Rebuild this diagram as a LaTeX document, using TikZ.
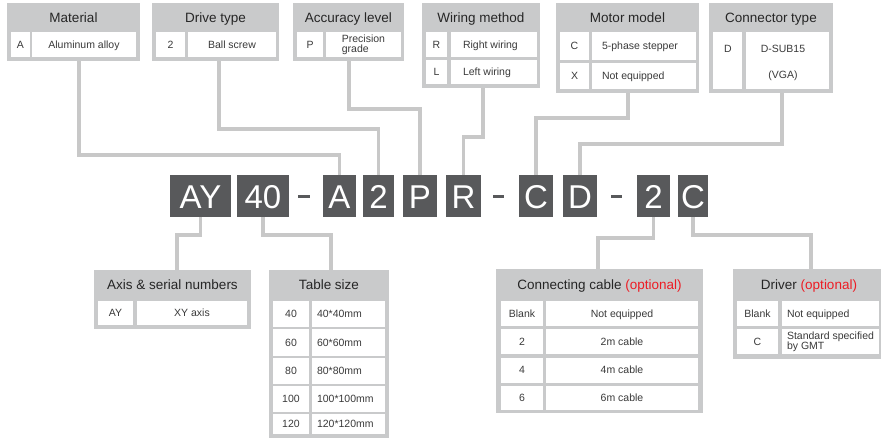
\documentclass[tikz,border=0pt]{standalone}
\usepackage{fontspec}
\setmainfont{Liberation Sans}
\definecolor{hdr}{HTML}{C9CACB}
\definecolor{connc}{HTML}{C8C8C8}
\definecolor{codebg}{HTML}{58595B}
\definecolor{txt}{HTML}{3A3A3A}
\definecolor{hdtxt}{HTML}{262626}
\definecolor{opt}{HTML}{ED1C24}
\tikzset{
 frame/.style={fill=hdr, inner sep=0pt, outer sep=0pt, anchor=north west},
 hd/.style={inner sep=0pt, outer sep=0pt, anchor=north west, text=hdtxt, font=\fontsize{13.5}{16}\selectfont, text height=9.8pt, text depth=0pt},
 cell/.style={fill=white, inner sep=0pt, outer sep=0pt, anchor=north west, text=txt, font=\fontsize{10.5}{10}\selectfont},
 sl/.style={text height=7.6pt, text depth=0pt},
 ctxt/.style={inner sep=0pt, outer sep=0pt, text=txt, font=\fontsize{10.5}{10}\selectfont, align=left},
 code/.style={fill=codebg, text=white, inner sep=0pt, outer sep=0pt, minimum height=42pt, text height=24pt, text depth=0pt, font=\fontsize{33}{33}\selectfont},
 dashbar/.style={fill=codebg, inner sep=0pt, outer sep=0pt, minimum width=11.5pt, minimum height=3pt},
 cn/.style={draw=connc, line width=3.2pt},
}
% table frame with header: [header height]{name}{x1}{y1}{x2}{y2}{title}
\newcommand\TBox[7][29]{\node[frame,minimum width={#5-#3},minimum height={#6-#4}] (#2) at (#3,#4) {};
 \node[hd,minimum width={#5-#3},minimum height=#1] (#2h) at (#3,#4) {#7};}
% centred single-line cell
\newcommand\TCell[6]{\node[cell,sl,minimum width={#4-#2},minimum height={#5-#3}] (#1) at (#2,#3) {#6};}
% centred multi-line cell
\newcommand\TMulti[6]{\node[cell,align=left,minimum width={#4-#2},minimum height={#5-#3}] (#1) at (#2,#3) {#6};}
% left aligned single-line cell: [pad]
\newcommand\TLeft[7][5]{\node[cell,minimum width={#5-#3},minimum height={#6-#4}] (#2) at (#3,#4) {};
 \node[ctxt,sl,anchor=west] (#2t) at ([xshift=#1pt]#2.west) {#7};}
% code box
\newcommand\CodeBox[4]{\node[code,minimum width={#3-#2}] (#1) at ({(#2+#3)/2},196) {#4};}
\begin{document}
\begin{tikzpicture}[x=1pt,y=-1pt]
\useasboundingbox (0,0) rectangle (881,437);
% ---- top tables
\TBox{mat}{7}{3}{140}{61}{Material}
\TCell{matA}{11}{32}{30}{57}{A}
\TCell{matV}{32}{32}{136}{57}{Aluminum alloy}
\TBox{drv}{152}{3}{279}{61}{Drive type}
\TCell{drvA}{156}{32}{185}{57}{2}
\TCell{drvV}{188}{32}{276}{57}{Ball screw}
\TBox{acc}{293}{3}{404}{61}{Accuracy level}
\TCell{accA}{297}{32}{323}{57}{P}
\TMulti{accV}{326}{32}{401}{57}{Precision\\grade}
\TBox{wir}{422}{3}{540}{88}{Wiring method}
\TCell{wirR}{426}{32}{447}{57}{R}
\TLeft[12]{wirRv}{451}{32}{537}{57}{Right wiring}
\TCell{wirL}{426}{60}{447}{84}{L}
\TLeft[12]{wirLv}{451}{60}{537}{84}{Left wiring}
\TBox{mot}{556}{3}{699}{93}{Motor model}
\TCell{motC}{560}{32}{589}{60}{C}
\TLeft[10]{motCv}{592}{32}{696}{60}{5-phase stepper}
\TCell{motX}{560}{63}{589}{89}{X}
\TLeft[10]{motXv}{592}{63}{696}{89}{Not equipped}
\TBox{con}{709}{3}{833}{93}{Connector type}
\TCell{conD}{713}{32}{742}{89}{}
\TCell{conV}{746}{32}{829}{89}{}
\node[ctxt,sl] (conDt) at (728,48.5) {D};
\node[ctxt,sl] (conVa) at (783,48.5) {D-SUB15};
\node[ctxt,sl] (conVb) at (783,74.5) {(VGA)};
% ---- bottom tables
\TBox[30]{axs}{94}{270}{251}{329}{Axis \& serial numbers}
\TCell{axsA}{98}{301}{133}{325}{AY}
\TCell{axsV}{137}{301}{247}{325}{XY axis}
\TBox[30]{tbl}{269}{270}{389}{440}{Table size}
\TCell{tbl1}{273}{301}{309}{327}{40}
\TLeft{tbl1v}{312}{301}{385}{327}{40*40mm}
\TCell{tbl2}{273}{329.3}{309}{355.5}{60}
\TLeft{tbl2v}{312}{329.3}{385}{355.5}{60*60mm}
\TCell{tbl3}{273}{357.6}{309}{383.8}{80}
\TLeft{tbl3v}{312}{357.6}{385}{383.8}{80*80mm}
\TCell{tbl4}{273}{385.9}{309}{411.8}{100}
\TLeft{tbl4v}{312}{385.9}{385}{411.8}{100*100mm}
\TCell{tbl5}{273}{414.2}{309}{434}{120}
\TLeft{tbl5v}{312}{414.2}{385}{434}{120*120mm}
\TBox[31]{cab}{496}{269}{703}{413}{Connecting cable \textcolor{opt}{(optional)}}
\TCell{cab1}{501}{301}{543}{326}{Blank}
\TCell{cab1v}{546}{301}{698}{326}{Not equipped}
\TCell{cab2}{501}{329.3}{543}{354.3}{2}
\TCell{cab2v}{546}{329.3}{698}{354.3}{2m cable}
\TCell{cab3}{501}{357.6}{543}{382.6}{4}
\TCell{cab3v}{546}{357.6}{698}{382.6}{4m cable}
\TCell{cab4}{501}{385.9}{543}{409.8}{6}
\TCell{cab4v}{546}{385.9}{698}{409.8}{6m cable}
\TBox[31]{dri}{733}{269}{885}{359}{Driver \textcolor{opt}{(optional)}}
\TCell{dri1}{737}{301}{778}{326}{Blank}
\TLeft{dri1v}{782}{301}{879}{326}{Not equipped}
\TCell{dri2}{737}{329.3}{778}{354.3}{C}
\node[cell,minimum width=97pt,minimum height=25pt] (dri2v) at (782,329.3) {};
\node[ctxt,anchor=west] (dri2vt) at ([xshift=5pt]dri2v.west) {Standard specified\\by GMT};
% ---- code
\CodeBox{kAY}{170}{231}{AY}
\CodeBox{kF}{237}{289}{40}
\node[dashbar] (dA) at (304,196) {};
\CodeBox{kA}{323}{356}{A}
\CodeBox{kT}{363}{394}{2}
\CodeBox{kP}{403}{437}{P}
\CodeBox{kR}{446}{481}{R}
\node[dashbar] (dB) at (498.5,196) {};
\CodeBox{kC}{519}{553}{C}
\CodeBox{kD}{563}{597}{D}
\node[dashbar] (dC) at (616.5,196) {};
\CodeBox{kTb}{637}{670}{2}
\CodeBox{kCb}{678}{708}{C}
% ---- connectors
\draw[cn] ([xshift=5.5pt]mat.south) |- ([yshift=20pt]kA.north) -- (kA.north);
\draw[cn] ([xshift=3.5pt]drv.south) |- ([yshift=46pt]kT.north) -- (kT.north);
\draw[cn] ([xshift=0.5pt]acc.south) |- ([yshift=66pt]kP.north) -- (kP.north);
\draw[cn] ([xshift=2pt]wir.south) |- ([yshift=38pt]kR.north) -- (kR.north);
\draw[cn] ([xshift=0.5pt]mot.south) |- ([yshift=57pt]kC.north) -- (kC.north);
\draw[cn] ([xshift=11pt]con.south) |- ([yshift=31pt]kD.north) -- (kD.north);
\draw[cn] (kAY.south) |- ([xshift=4.5pt,yshift=35pt]axs.north) -- ([xshift=4.5pt]axs.north);
\draw[cn] (kF.south) |- ([xshift=2pt,yshift=35pt]tbl.north) -- ([xshift=2pt]tbl.north);
\draw[cn] (kTb.south) |- ([xshift=-1.5pt,yshift=31pt]cab.north) -- ([xshift=-1.5pt]cab.north);
\draw[cn] (kCb.south) |- ([xshift=2pt,yshift=34pt]dri.north) -- ([xshift=2pt]dri.north);
\end{tikzpicture}
\end{document}
